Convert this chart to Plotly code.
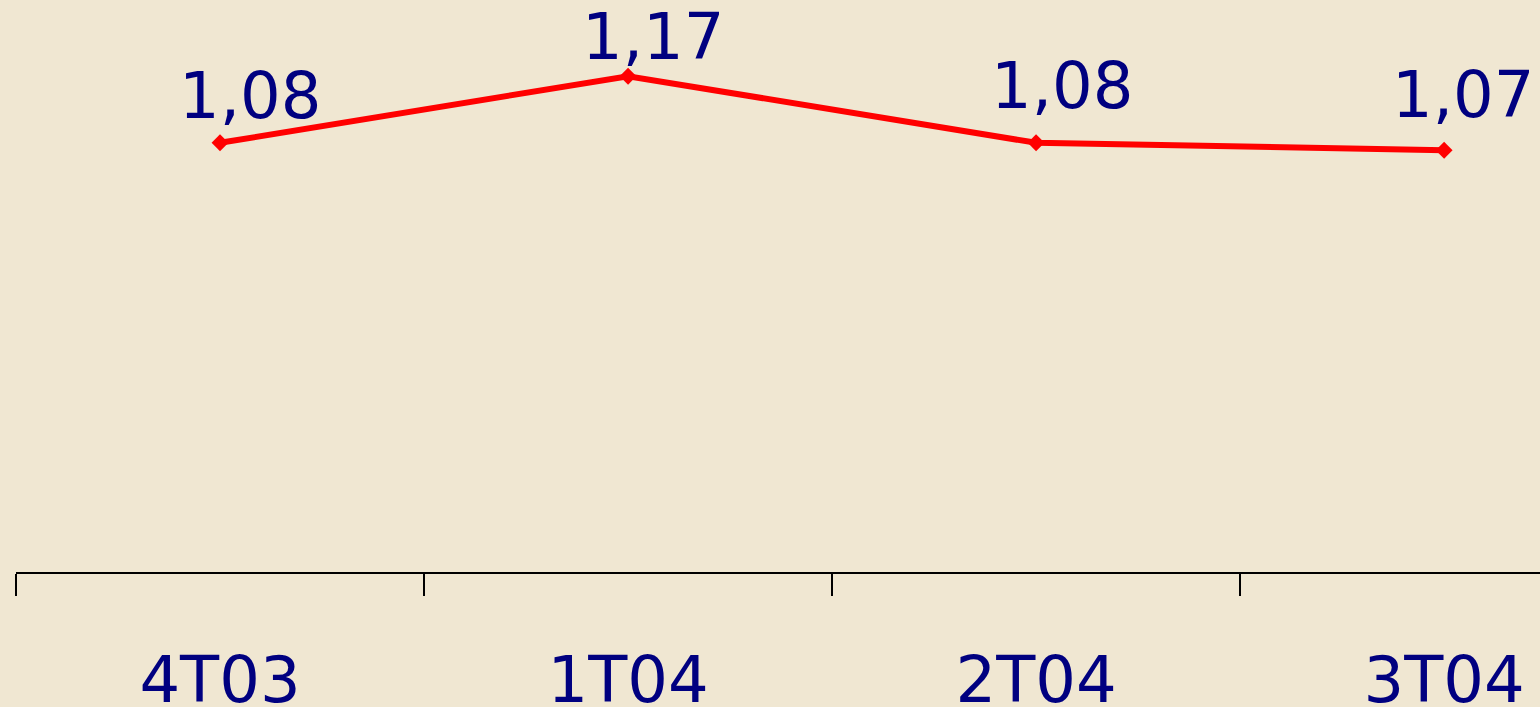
import plotly.graph_objects as go

categories = ["4T03", "1T04", "2T04", "3T04"]
values = [1.08, 1.17, 1.08, 1.07]

# label styling offsets (pixels)
label_dx = [30, 25, 26, 19]
label_dy = [8, 0, 18, 16]

BG = "#F0E7D2"
NAVY = "#000080"
FONT = "DejaVu Sans"

fig = go.Figure()
fig.add_trace(go.Scatter(
    x=categories, y=values, mode="lines+markers",
    line=dict(color="#FF0000", width=6),
    marker=dict(symbol="diamond", size=13, color="#FF0000"),
    hoverinfo="skip", showlegend=False,
))

for c, v, dx, dy in zip(categories, values, label_dx, label_dy):
    fig.add_annotation(
        x=c, y=v, text=f"{v:.2f}".replace(".", ","),
        showarrow=False, xanchor="center", yanchor="bottom",
        xshift=dx, yshift=dy,
        font=dict(family=FONT, size=64, color=NAVY),
    )

fig.update_layout(
    width=1540, height=707,
    margin=dict(l=16, r=0, t=0, b=135, autoexpand=False),
    paper_bgcolor=BG, plot_bgcolor=BG,
    separators=",.",
    xaxis=dict(
        type="category", range=[-0.5, 3.235], automargin=False,
        tickson="boundaries", ticks="outside", ticklen=22, tickwidth=2,
        tickcolor="black", showline=True, linecolor="black", linewidth=2,
        showgrid=False, zeroline=False,
        tickfont=dict(family=FONT, size=64, color=NAVY),
        ticklabelstandoff=51,
    ),
    yaxis=dict(
        range=[0.5, 1.273], visible=False, showgrid=False, zeroline=False,
        automargin=False,
    ),
)

fig.write_html(
    "out.html",
    config={"displayModeBar": False},
    post_script="document.body.style.margin='0';document.body.style.overflow='hidden';",
)
